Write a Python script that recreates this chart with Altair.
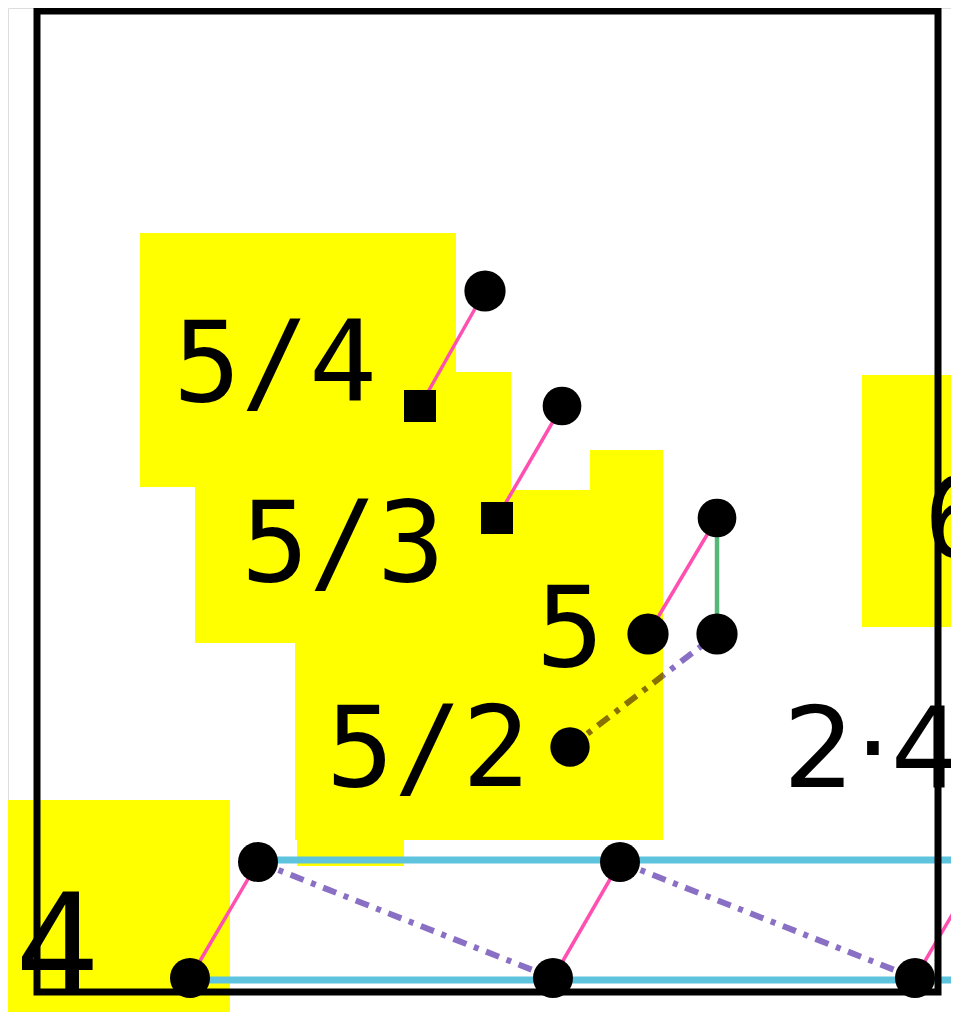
import altair as alt
import pandas as pd

# ---- coordinate frame (reference pixel units) ----
X_DOMAIN = [8, 951]
Y_DOMAIN = [8, 1012]

# ---- yellow highlight regions ----
hl_x1 = [140, 195, 295, 590, 297, 8, 862]
hl_x2 = [456, 511, 663, 663, 404, 230, 990]
hl_y1 = [233, 372, 490, 450, 840, 800, 375]
hl_y2 = [487, 643, 840, 490, 866, 1040, 627]

# ---- outer frame ----
frame_x1 = [37]
frame_x2 = [938]
frame_y1 = [11]
frame_y2 = [992]

# ---- edges ----
pink_x1 = [420, 497, 648, 190, 553, 915]
pink_y1 = [406, 518, 634, 978, 978, 978]
pink_x2 = [485, 562, 717, 258, 620, 983]
pink_y2 = [291, 406, 518, 862, 862, 862]

green_x1 = [717]
green_y1 = [518]
green_x2 = [717]
green_y2 = [634]

purple_x1 = [570, 258, 620]
purple_y1 = [747, 862, 862]
purple_x2 = [717, 553, 915]
purple_y2 = [634, 978, 978]

cyan_x1 = [258, 190]
cyan_y1 = [860, 980]
cyan_x2 = [990, 990]
cyan_y2 = [860, 980]

# ---- nodes ----
node_x = [485, 420, 562, 497, 717, 648, 717, 570, 190, 553, 915, 258, 620]
node_y = [291, 406, 406, 518, 518, 634, 634, 747, 978, 978, 978, 862, 862]
node_shape = ["circle", "square", "circle", "square", "circle", "circle", "circle",
              "circle", "circle", "circle", "circle", "circle", "circle"]
node_size = [1700, 1024, 1500, 1024, 1500, 1700, 1700, 1550, 1600, 1600, 1600, 1600, 1600]

# ---- labels (monospace) ----
label_text = ["5/4", "5/3", "5", "5/2", "6", "4"]
label_x = [173, 241, 536, 326, 924, 15]
label_y = [401, 581, 666, 786, 557, 995]
label_size = [113, 113, 113, 113, 113, 140]

# ---- label (proportional) ----
label2_text = ["2\u00b74"]
label2_x = [783]
label2_y = [787]
label2_size = [113]

xs = alt.Scale(domain=X_DOMAIN, nice=False, zero=False)
ys = alt.Scale(domain=Y_DOMAIN, nice=False, zero=False, reverse=True)


def seg_df(x1, y1, x2, y2):
    return pd.DataFrame({"x": x1, "y": y1, "x2": x2, "y2": y2})


def seg_enc(ch):
    return ch.encode(
        x=alt.X("x:Q", scale=xs, axis=None),
        y=alt.Y("y:Q", scale=ys, axis=None),
        x2="x2:Q",
        y2="y2:Q",
    )


yellow = seg_enc(alt.Chart(seg_df(hl_x1, hl_y1, hl_x2, hl_y2)).mark_rect(
    color="#ffff00", opacity=1, strokeWidth=0, clip=True))

cyan = seg_enc(alt.Chart(seg_df(cyan_x1, cyan_y1, cyan_x2, cyan_y2)).mark_rule(
    color="#5ec3dd", strokeWidth=7, blend="multiply", clip=True))

pink = seg_enc(alt.Chart(seg_df(pink_x1, pink_y1, pink_x2, pink_y2)).mark_rule(
    color="#ff4fb0", strokeWidth=3.5, blend="multiply", clip=True))

green = seg_enc(alt.Chart(seg_df(green_x1, green_y1, green_x2, green_y2)).mark_rule(
    color="#55b878", strokeWidth=4.5, blend="multiply"))

purple = seg_enc(alt.Chart(seg_df(purple_x1, purple_y1, purple_x2, purple_y2)).mark_rule(
    color="#8a70c4", strokeWidth=6, strokeDash=[14, 8, 5, 8], blend="multiply"))

frame = seg_enc(alt.Chart(seg_df(frame_x1, frame_y1, frame_x2, frame_y2)).mark_rect(
    fill=None, fillOpacity=0, stroke="black", strokeWidth=7))

nodes_df = pd.DataFrame({"x": node_x, "y": node_y, "shape": node_shape, "size": node_size})
nodes = alt.Chart(nodes_df).mark_point(filled=True, color="black", opacity=1).encode(
    x=alt.X("x:Q", scale=xs, axis=None),
    y=alt.Y("y:Q", scale=ys, axis=None),
    shape=alt.Shape("shape:N", scale=alt.Scale(domain=["circle", "square"],
                                               range=["circle", "square"]), legend=None),
    size=alt.Size("size:Q", scale=None, legend=None),
)


def text_layer(xv, yv, tv, sv, font):
    df = pd.DataFrame({"x": xv, "y": yv, "t": tv, "s": sv})
    return alt.Chart(df).mark_text(
        align="left", baseline="alphabetic", font=font, color="black"
    ).encode(
        x=alt.X("x:Q", scale=xs, axis=None),
        y=alt.Y("y:Q", scale=ys, axis=None),
        text="t:N",
        size=alt.Size("s:Q", scale=None, legend=None),
    )


labels = text_layer(label_x, label_y, label_text, label_size, "DejaVu Sans Mono")
labels2 = text_layer(label2_x, label2_y, label2_text, label2_size, "DejaVu Sans")

chart = alt.layer(yellow, cyan, pink, green, purple, frame, nodes, labels, labels2).properties(
    width=X_DOMAIN[1] - X_DOMAIN[0],
    height=Y_DOMAIN[1] - Y_DOMAIN[0],
    autosize=alt.AutoSizeParams(type="none"),
    padding=0,
).configure_view(stroke=None).configure(background="transparent")

chart.save("out.html", embed_options={"renderer": "svg", "actions": False})
